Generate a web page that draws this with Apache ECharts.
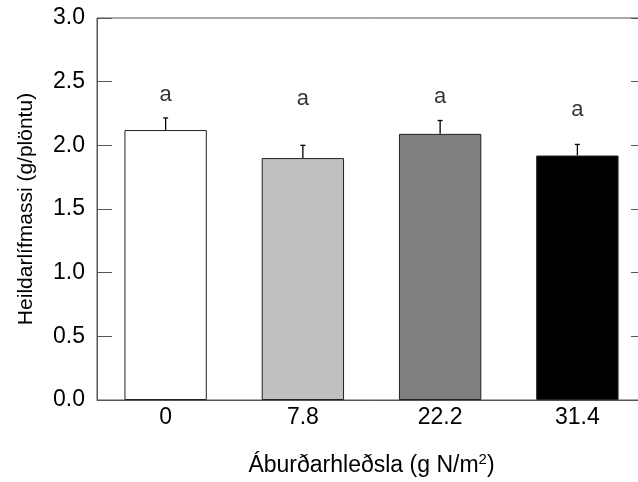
<!DOCTYPE html>
<html>
<head>
<meta charset="utf-8">
<script src="https://cdn.jsdelivr.net/npm/echarts@6/dist/echarts.min.js"></script>
<style>
  html, body { margin: 0; padding: 0; background: #fff; overflow: hidden; }
  #chart { width: 660px; height: 482px; }
</style>
</head>
<body>
<div id="chart"></div>
<script>
var categories = ['0', '7.8', '22.2', '31.4'];
var means = [2.12, 1.90, 2.09, 1.92];
var errTops = [2.215, 2.0, 2.195, 2.007];
var letterY = [2.393, 2.367, 2.38, 2.278];
var letters = ['a', 'a', 'a', 'a'];
var barColors = ['#ffffff', '#c0c0c0', '#808080', '#000000'];

// the plot frame runs past the right edge of the 638px window, as in the original
var chart = echarts.init(document.getElementById('chart'));
var font = 'Liberation Sans, Arial, sans-serif';

var option = {
  animation: false,
  grid: {
    left: 97, top: 18, right: 14, bottom: 81.5,
    show: true, borderColor: '#555', borderWidth: 1, backgroundColor: 'transparent'
  },
  xAxis: {
    type: 'category',
    data: categories,
    axisLine: { lineStyle: { color: '#555', width: 1 } },
    axisTick: { show: false },
    axisLabel: { color: '#000', fontSize: 23, fontFamily: font, margin: 6 },
    name: 'Áburðarhleðsla (g N/m{sup|2})',
    nameLocation: 'middle',
    nameGap: 52,
    nameTextStyle: {
      color: '#000', fontSize: 23, fontFamily: font,
      rich: { sup: { fontSize: 15, verticalAlign: 'top', padding: [0, 0, 12, 0], color: '#000', fontFamily: font } }
    }
  },
  yAxis: [
    {
      type: 'value', min: 0, max: 3, interval: 0.5,
      axisLine: { show: true, lineStyle: { color: '#555' } },
      axisTick: { show: true, inside: true, length: 15, lineStyle: { color: '#555' } },
      splitLine: { show: false },
      axisLabel: {
        color: '#000', fontSize: 23, fontFamily: font, margin: 12,
        formatter: function (v) { return v.toFixed(1); }
      },
      name: 'Heildarlífmassi (g/plöntu)',
      nameLocation: 'middle',
      nameGap: 60,
      nameTextStyle: { color: '#000', fontSize: 21, fontFamily: font }
    },
    {
      type: 'value', min: 0, max: 3, interval: 0.5, position: 'right',
      axisLine: { show: false },
      axisTick: { show: true, inside: true, length: 15, lineStyle: { color: '#555' } },
      splitLine: { show: false },
      axisLabel: { show: false }
    }
  ],
  series: [
    {
      type: 'bar',
      barWidth: '60%',
      data: means.map(function (v, i) {
        return { value: v, itemStyle: { color: barColors[i], borderColor: '#222', borderWidth: 1 } };
      }),
      z: 2
    },
    {
      type: 'custom',
      data: means.map(function (v, i) { return [i, v, errTops[i]]; }),
      renderItem: function (params, api) {
        var base = api.coord([api.value(0), api.value(1)]);
        var top = api.coord([api.value(0), api.value(2)]);
        return {
          type: 'group',
          children: [
            { type: 'line', shape: { x1: base[0], y1: base[1], x2: top[0], y2: top[1] },
              style: { stroke: '#000', lineWidth: 1.3 } },
            { type: 'line', shape: { x1: top[0] - 2.5, y1: top[1], x2: top[0] + 2.5, y2: top[1] },
              style: { stroke: '#000', lineWidth: 1.3 } }
          ]
        };
      },
      z: 1
    },
    {
      type: 'scatter',
      symbolSize: 0,
      data: letterY.map(function (v, i) { return [i, v]; }),
      label: {
        show: true, position: 'inside',
        formatter: function (p) { return letters[p.dataIndex]; },
        color: '#000', textBorderWidth: 0, fontSize: 22, fontFamily: font
      }
    }
  ]
};

chart.setOption(option);
</script>
</body>
</html>
